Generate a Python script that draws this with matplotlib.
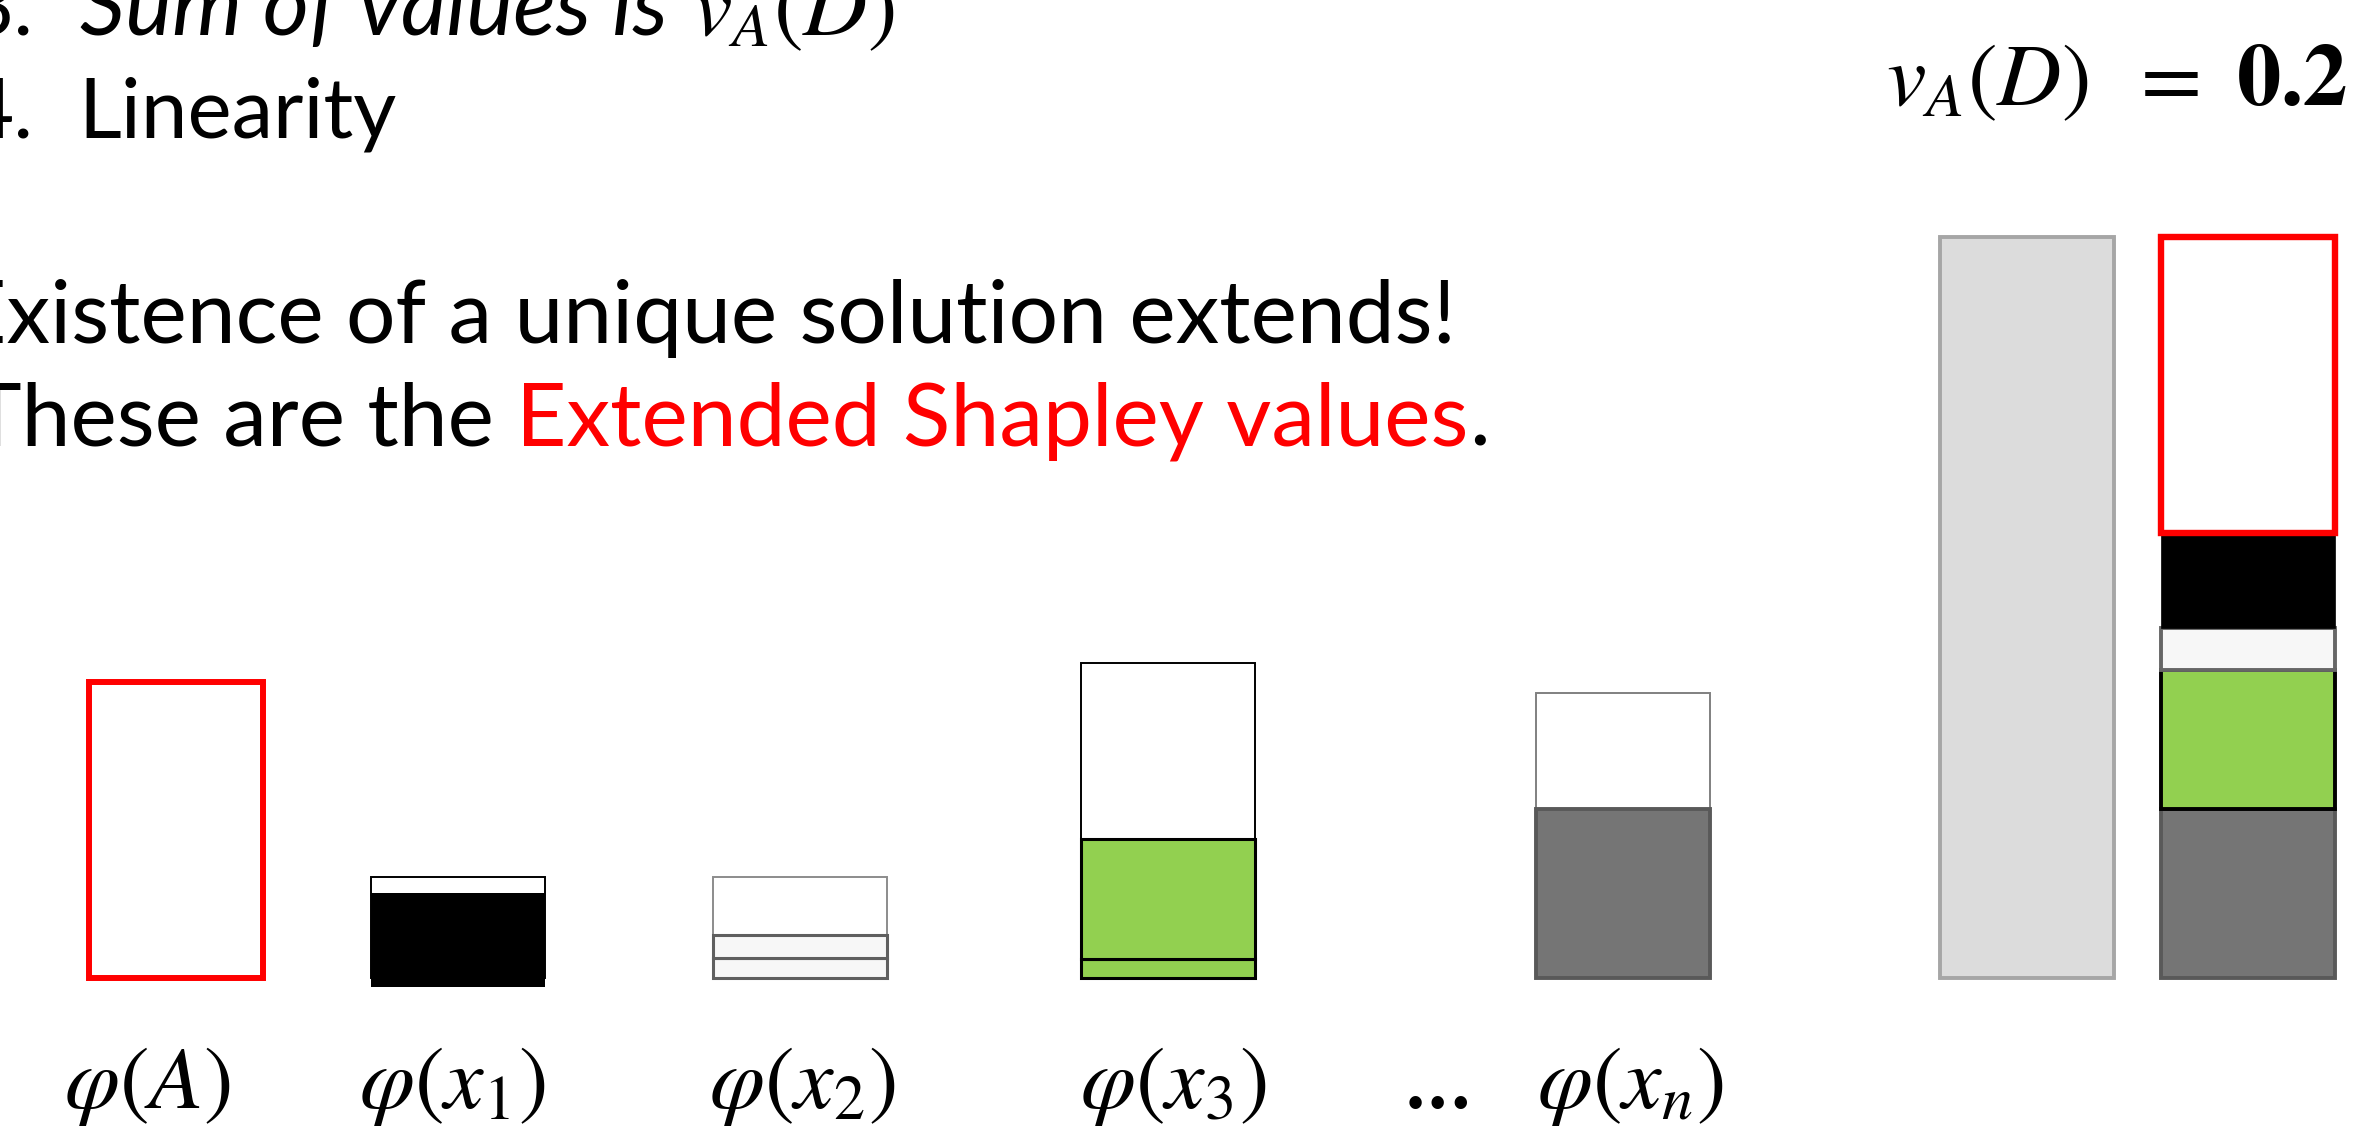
import matplotlib.pyplot as plt

W, H = 2356, 1130

# labels under the bars
labels = [r'$\varphi(A)$', r'$\varphi(x_1)$', r'$\varphi(x_2)$', r'$\varphi(x_3)$', r'$\varphi(x_n)$']
# extended shapley values (filled parts), order A, x1, x2, x3, xn
ext_vals = [0.40, 0.127, 0.058, 0.187, 0.228]
# the earlier values, drawn as empty boxes behind
old_vals = [0.136, 0.136, 0.425, 0.385]   # x1, x2, x3, xn
x2_parts = [0.027, 0.031]
x3_parts = [0.026, 0.161]
x1_drop = 0.012
total = sum(ext_vals)

plt.rcParams['font.family'] = ['Lato', 'DejaVu Sans']
plt.rcParams['mathtext.fontset'] = 'stix'

fig = plt.figure(figsize=(W / 100, H / 100), dpi=100)
ax = fig.add_axes([0, 0, 1, 1])
px = 741.0  # pixels per unit
base = 978
ax.set_xlim(0, W)
ax.set_ylim(-(H - base) / px, base / px)
ax.axis('off')

bw = 174
cx = [176, 458, 800, 1168, 1623]
RED = '#FF0000'
GREEN = '#92D050'
DGRAY = '#757575'
LIGHT = '#F7F7F7'

# phi(A)
ax.bar(cx[0], ext_vals[0], width=bw, facecolor='white', edgecolor=RED, linewidth=4.3)

# phi(x1)
ax.bar(cx[1], old_vals[0], width=bw, facecolor='white', edgecolor='black', linewidth=1.4)
ax.bar(cx[1], ext_vals[1], bottom=-x1_drop, width=bw, color='black', linewidth=0)

# phi(x2)
ax.bar(cx[2], old_vals[1], width=bw, facecolor='white', edgecolor='#8C8C8C', linewidth=1.4)
b = 0
for p in x2_parts:
    ax.bar(cx[2], p, bottom=b, width=bw, facecolor=LIGHT, edgecolor='#5F5F5F', linewidth=2.2)
    b += p

# phi(x3)
ax.bar(cx[3], old_vals[2], width=bw, facecolor='white', edgecolor='black', linewidth=1.4)
b = 0
for p in x3_parts:
    ax.bar(cx[3], p, bottom=b, width=bw, facecolor=GREEN, edgecolor='black', linewidth=2.2)
    b += p

# phi(xn)
ax.bar(cx[4], old_vals[3], width=bw, facecolor='white', edgecolor='#808080', linewidth=1.4)
ax.bar(cx[4], ext_vals[4], width=bw, facecolor=DGRAY, edgecolor='#595959', linewidth=2.8)

# right side: v_A(D) and the stacked sum
ax.bar(2027, total, width=bw, facecolor='#DCDCDC', edgecolor='#A6A6A6', linewidth=2.8)
stack_order = [4, 3, 2, 1, 0]
stack_style = {
    4: dict(facecolor=DGRAY, edgecolor='#595959', linewidth=2.8),
    3: dict(facecolor=GREEN, edgecolor='black', linewidth=2.8),
    2: dict(facecolor=LIGHT, edgecolor='#666666', linewidth=2.8),
    1: dict(facecolor='black', edgecolor='black', linewidth=0.5),
    0: dict(facecolor='white', edgecolor=RED, linewidth=4.6),
}
b = 0
for i in stack_order:
    ax.bar(2248, ext_vals[i], bottom=b, width=bw, **stack_style[i])
    b += ext_vals[i]


def fy(y):
    return 1 - y / H


# labels
mfs = 64
lab_x = [147, 452, 802, 1173, 1630]
for lx, lab in zip(lab_x, labels):
    fig.text(lx / W, fy(1108), lab, fontsize=mfs, ha='center', va='baseline')
fig.text(1438 / W, fy(1108), '...', fontsize=48, fontweight='bold',
         family='DejaVu Serif', ha='center', va='baseline')

fig.text(1886 / W, fy(105), r'$v_A(D)$', fontsize=mfs, ha='left', va='baseline')
fig.text(2164 / W, fy(105), r'$=$', fontsize=mfs, ha='center', va='baseline')
fig.text(2236 / W, fy(105), r'$\mathbf{0.2}$', fontsize=mfs, ha='left', va='baseline')

# slide text
r = fig.canvas.get_renderer()
fs = 60
fig.text(33 / W, fy(35), '3.', fontsize=fs, ha='right', va='baseline')
t = fig.text(80 / W, fy(35), 'Sum of values is', fontsize=64, style='italic',
             ha='left', va='baseline')
xe = 80 + t.get_window_extent(renderer=r).width
fig.text((xe + 24) / W, fy(35), r'$v_A(D)$', fontsize=mfs, ha='left', va='baseline')
fig.text(33 / W, fy(138), '4.', fontsize=fs, ha='right', va='baseline')
fig.text(78 / W, fy(138), 'Linearity', fontsize=fs, ha='left', va='baseline')

fs2 = 63
fig.text(-44 / W, fy(343), 'Existence of a unique solution extends!', fontsize=fs2,
         ha='left', va='baseline')

x0 = -30
for part, col in [('These are the ', 'black'), ('Extended Shapley values', RED), ('.', 'black')]:
    t = fig.text(x0 / W, fy(445), part, fontsize=fs2, color=col, ha='left', va='baseline')
    x0 += t.get_window_extent(renderer=r).width

fig.savefig('out.png', dpi=100, facecolor='white')
